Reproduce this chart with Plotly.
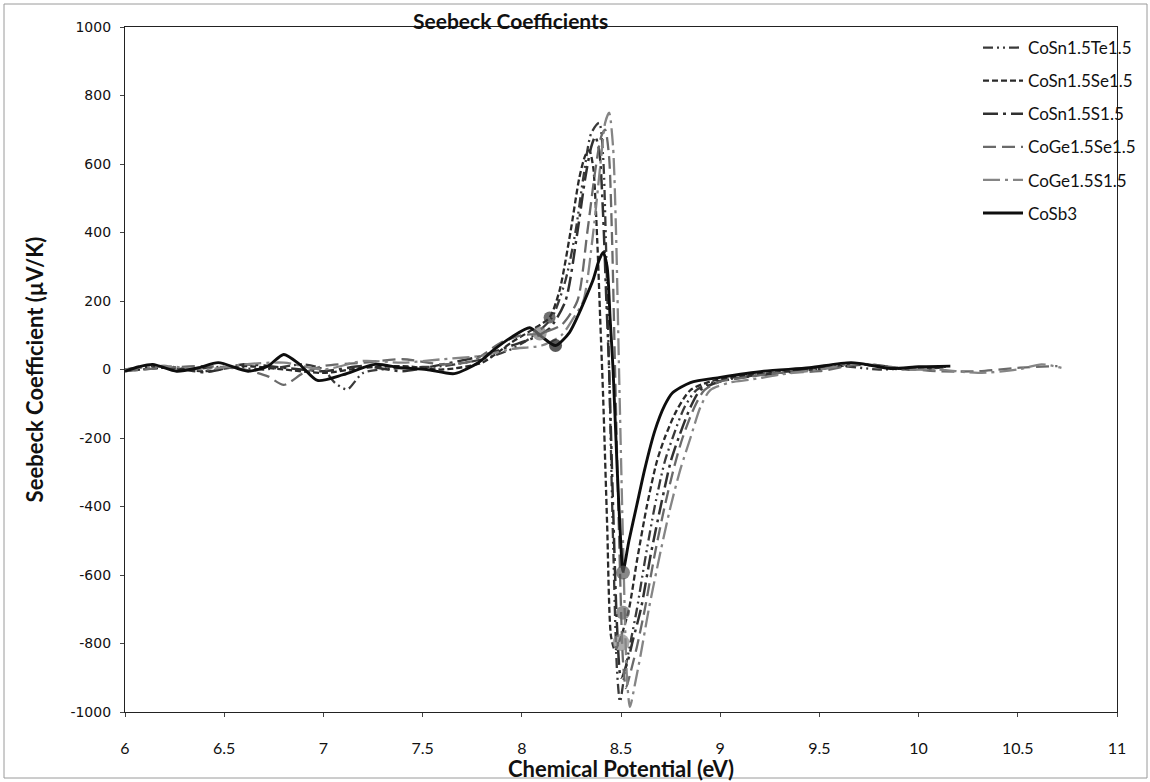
import plotly.graph_objects as go

# ---------------- data ----------------
te_x = [6.0, 6.15, 6.3, 6.5, 6.7, 6.9, 7.0, 7.06, 7.12, 7.2, 7.4, 7.6, 7.8, 7.95, 8.05, 8.15, 8.22, 8.27,
        8.31, 8.35, 8.39, 8.41, 8.425, 8.44, 8.46, 8.48, 8.495, 8.52, 8.55, 8.58, 8.62, 8.67, 8.72, 8.76,
        8.82, 8.88, 8.95, 9.05, 9.2, 9.4, 9.6, 9.8, 10.0, 10.15]
te_y = [-3, 10, 0, 8, 0, 15, 0, -40, -58, -10, 5, 10, 30, 60, 95, 150, 260, 400,
        560, 690, 720, 620, 350, 0, -500, -880, -970, -880, -790, -700, -560, -400, -270, -200,
        -110, -60, -40, -28, -15, -5, 10, 0, 5, 8]

se_x = [6.0, 6.2, 6.4, 6.6, 6.8, 7.0, 7.2, 7.4, 7.6, 7.8, 7.95, 8.05, 8.14, 8.19, 8.245, 8.29, 8.32, 8.34,
        8.36, 8.38, 8.395, 8.41, 8.43, 8.45, 8.47, 8.50, 8.54, 8.58, 8.63, 8.68, 8.72, 8.78, 8.85, 8.95,
        9.1, 9.3, 9.5, 9.7, 9.9, 10.1]
se_y = [-5, 5, -5, 10, 0, -10, 5, 10, 0, 20, 80, 115, 152, 230, 400, 560, 625, 640,
        590, 380, 150, -80, -450, -780, -820, -780, -700, -560, -400, -270, -200, -120, -60, -35,
        -20, -8, 2, 15, 2, 5]

s_x = [6.0, 6.2, 6.4, 6.6, 6.8, 7.0, 7.2, 7.4, 7.6, 7.8, 7.95, 8.05, 8.14, 8.22, 8.28, 8.32, 8.35, 8.37,
       8.39, 8.41, 8.425, 8.44, 8.46, 8.48, 8.50, 8.53, 8.56, 8.60, 8.65, 8.70, 8.75, 8.79, 8.85, 8.90,
       9.0, 9.15, 9.35, 9.55, 9.75, 9.95, 10.15]
s_y = [0, 10, -8, 15, 5, -5, 10, -5, 15, 40, 70, 90, 120, 200, 400, 560, 650, 680,
       640, 450, 220, 0, -400, -750, -900, -860, -790, -700, -540, -400, -270, -200, -110, -60,
       -35, -20, -8, 5, 15, 0, 8]

gese_x = [6.0, 6.2, 6.4, 6.6, 6.72, 6.8, 6.9, 7.0, 7.2, 7.4, 7.6, 7.75, 7.9, 8.0, 8.09, 8.2, 8.28, 8.33,
          8.37, 8.40, 8.42, 8.44, 8.455, 8.47, 8.49, 8.51, 8.525, 8.55, 8.58, 8.62, 8.67, 8.72, 8.77,
          8.81, 8.87, 8.92, 9.0, 9.1, 9.3, 9.5, 9.7, 9.9, 10.1, 10.3, 10.5, 10.7]
gese_y = [-5, 5, 10, 0, -20, -45, -10, 10, 20, 30, 15, 25, 80, 100, 105, 130, 200, 400,
          580, 680, 700, 620, 380, 0, -480, -850, -930, -880, -810, -700, -540, -400, -280,
          -200, -110, -60, -35, -25, -10, -5, 15, 5, -5, -5, 5, 10]

ges_x = [6.0, 6.2, 6.4, 6.6, 6.8, 7.0, 7.2, 7.4, 7.6, 7.8, 7.95, 8.1, 8.2, 8.26, 8.31, 8.36, 8.40, 8.42,
         8.44, 8.46, 8.475, 8.49, 8.51, 8.53, 8.545, 8.57, 8.60, 8.64, 8.70, 8.75, 8.80, 8.85, 8.90,
         8.95, 9.05, 9.15, 9.3, 9.5, 9.7, 9.9, 10.1, 10.3, 10.5, 10.62, 10.72]
ges_y = [0, 10, 0, 15, 20, 0, 25, 20, 30, 40, 60, 70, 100, 150, 200, 400, 620, 720,
         750, 650, 400, 0, -500, -900, -985, -920, -830, -700, -530, -400, -290, -200, -110,
         -60, -38, -30, -15, 0, 18, 0, 0, -10, 0, 15, 5]

sb_x = [6.0, 6.07, 6.14, 6.26, 6.37, 6.47, 6.62, 6.72, 6.8, 6.88, 6.97, 7.1, 7.26, 7.39, 7.52, 7.66, 7.78,
        7.86, 7.95, 8.04, 8.10, 8.17, 8.24, 8.29, 8.33, 8.36, 8.39, 8.41, 8.43, 8.445, 8.46, 8.48, 8.50,
        8.51, 8.54, 8.58, 8.62, 8.67, 8.72, 8.76, 8.85, 9.0, 9.22, 9.45, 9.66, 9.86, 10.0, 10.16]
sb_y = [-5, 8, 15, -5, 5, 20, -5, 10, 44, 15, -32, -15, 15, 5, 0, -12, 20,
        58, 95, 122, 96, 70, 108, 166, 220, 263, 320, 342, 300, 150, 0, -280, -520,
        -590, -500, -395, -290, -180, -105, -68, -38, -23, -5, 5, 20, 3, 8, 10]

# highlighted points (band-edge markers)
mk_x = [8.14, 8.09, 8.17, 8.51, 8.51, 8.50]
mk_y = [152, 105, 70, -593, -710, -797]

names = ["CoSn1.5Te1.5", "CoSn1.5Se1.5", "CoSn1.5S1.5", "CoGe1.5Se1.5", "CoGe1.5S1.5", "CoSb3"]
xs = [te_x, se_x, s_x, gese_x, ges_x, sb_x]
ys = [te_y, se_y, s_y, gese_y, ges_y, sb_y]

x_ticks = [6, 6.5, 7, 7.5, 8, 8.5, 9, 9.5, 10, 10.5, 11]
y_ticks = [1000, 800, 600, 400, 200, 0, -200, -400, -600, -800, -1000]

# ---------------- styles ----------------
colors = ["#3a3a3a", "#2a2a2a", "#303030", "#6a6a6a", "#858585", "#0e0e0e"]
dashes = ["10px,4px,2px,4px,2px,4px", "6px,3px", "15px,5px,3px,5px", "13px,6px",
          "17px,5px,3px,5px", "solid"]
widths = [2.3, 2.3, 2.5, 2.3, 2.3, 2.9]
mk_colors = ["#333333", "#777777", "#111111", "#555555", "#666666", "#888888"]
mk_sizes = [12, 14, 13, 14, 14, 17]

fig = go.Figure()
for n, x, y, c, d, w in zip(names, xs, ys, colors, dashes, widths):
    fig.add_trace(go.Scatter(x=x, y=y, name=n, mode="lines", legendgroup=n,
                             line=dict(color=c, dash=d, width=w, shape="spline", smoothing=0.7)))

fig.add_trace(go.Scatter(x=mk_x, y=mk_y, mode="markers", showlegend=False,
                         marker=dict(color=mk_colors, size=mk_sizes, line=dict(width=0))))

L, R, T, B = 125, 33, 27, 70
W, H = 1150, 782
pw, ph = W - L - R, H - T - B


def px(p):
    return (p - L) / pw


def py(p):
    return (H - B - p) / ph


fig.update_layout(
    width=W, height=H,
    margin=dict(l=L, r=R, t=T, b=B, autoexpand=False),
    paper_bgcolor="white", plot_bgcolor="white",
    font=dict(family="Lato", color="#111111"),
    showlegend=True,
    legend=dict(x=px(978), y=py(30), xanchor="left", yanchor="top",
                bgcolor="rgba(0,0,0,0)", font=dict(family="Lato", size=17, color="#111"),
                tracegroupgap=8, itemwidth=40),
    annotations=[dict(text="<b>Seebeck Coefficients</b>", x=px(510), y=py(20), xref="paper",
                      yref="paper", showarrow=False, xanchor="center", yanchor="middle",
                      font=dict(family="Lato", size=21, color="#111"))],
    shapes=[dict(type="rect", xref="paper", yref="paper", x0=px(4), x1=px(1147), y0=py(778),
                 y1=py(4), line=dict(color="#9a9a9a", width=1), layer="below")],
)

fig.update_xaxes(range=[6, 11], tickvals=x_ticks, ticktext=[f"{v:g}" for v in x_ticks],
                 showline=True, linecolor="#222", linewidth=1.2, mirror=True, automargin=False,
                 ticks="outside", ticklen=4, tickcolor="#444", showgrid=False, zeroline=False,
                 tickfont=dict(family="Lato", size=16, color="#111"), ticklabelstandoff=18,
                 title=dict(text="<b>Chemical Potential (eV)</b>", standoff=6,
                            font=dict(family="Lato", size=22, color="#111")))
fig.update_yaxes(range=[-1000, 1000], tickvals=y_ticks, ticktext=[str(v) for v in y_ticks],
                 showline=True, linecolor="#222", linewidth=1.2, mirror=True, automargin=False,
                 ticks="outside", ticklen=4, tickcolor="#444", showgrid=False, zeroline=False,
                 tickfont=dict(family="DejaVu Sans", size=14, color="#111"), ticklabelstandoff=6,
                 title=dict(text="<b>Seebeck Coefficient (µV/K)</b>", standoff=20,
                            font=dict(family="Lato", size=22, color="#111")))

fig.write_html("out.html")
